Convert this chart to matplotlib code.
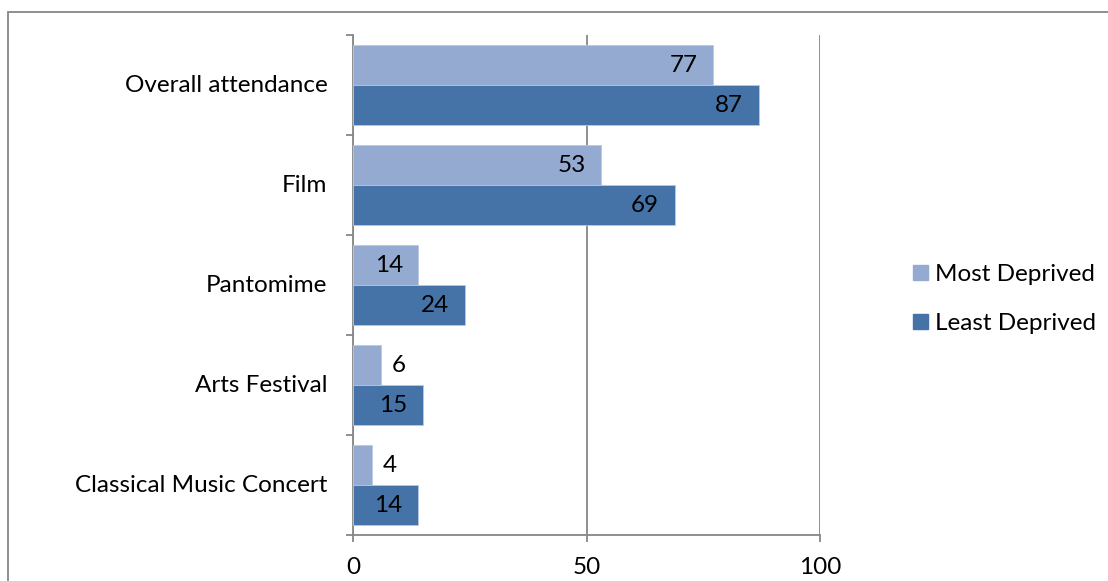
import matplotlib
matplotlib.use("Agg")
import matplotlib.pyplot as plt
from matplotlib.patches import Rectangle, Patch
import numpy as np

categories = ["Overall attendance", "Film", "Pantomime", "Arts Festival", "Classical Music Concert"]
most_deprived = [77, 53, 14, 6, 4]
least_deprived = [87, 69, 24, 15, 14]
series_names = ["Most Deprived", "Least Deprived"]
x_ticks = [0, 50, 100]

light = "#95AAD1"
dark = "#4573A8"
axis_grey = "#878787"
FONT = "Lato"
FS = 17.5

W, H = 1108, 581
fig = plt.figure(figsize=(W / 100, H / 100), dpi=100)
fig.patch.set_facecolor("white")

# outer chart frame (right and bottom edges fall outside the canvas)
fig.add_artist(Rectangle((8 / W, -0.05), 1.2, (H - 12) / H + 0.05, transform=fig.transFigure,
                         fill=False, edgecolor=axis_grey, linewidth=1.3))

ax = fig.add_axes([353 / W, 1 - 535 / H, (820 - 353) / W, 500 / H])

n = len(categories)
pos = np.arange(n)
bh = 0.4
ax.barh(pos - bh / 2, most_deprived, height=bh, color=light, edgecolor="#B9C7E2", linewidth=0.6, zorder=3)
ax.barh(pos + bh / 2, least_deprived, height=bh, color=dark, edgecolor="#B9C7E2", linewidth=0.6, zorder=3)

ax.set_xlim(0, 100)
ax.set_ylim(n - 0.5, -0.5)

to_px = 467 / 100.0
for i in range(n):
    v = most_deprived[i]
    if v * to_px > 40:
        ax.annotate(str(v), (v, pos[i] - bh / 2), xytext=(-15, 0), textcoords="offset pixels",
                    ha="right", va="center", fontsize=FS, family=FONT, zorder=4)
    else:
        ax.annotate(str(v), (v, pos[i] - bh / 2), xytext=(11, 0), textcoords="offset pixels",
                    ha="left", va="center", fontsize=FS, family=FONT, zorder=4)
    v = least_deprived[i]
    ax.annotate(str(v), (v, pos[i] + bh / 2), xytext=(-16, 0), textcoords="offset pixels",
                ha="right", va="center", fontsize=FS, family=FONT, zorder=4)

# gridlines
ax.set_xticks(x_ticks)
ax.set_xticklabels([str(t) for t in x_ticks], fontsize=FS, family=FONT)
ax.xaxis.grid(True, color=axis_grey, linewidth=1.3, zorder=0)
ax.set_axisbelow(True)

# category labels centered in each band, ticks at band boundaries
ax.set_yticks(np.arange(-0.5, n, 1.0))
ax.set_yticklabels([])
ax.set_yticks(pos, minor=True)
ax.set_yticklabels(categories, minor=True, fontsize=FS, family=FONT)
for lbl in ax.get_yticklabels(minor=True):
    lbl.set_verticalalignment("center")
ax.tick_params(axis="y", which="minor", length=0, pad=18.5)
ax.tick_params(axis="y", which="major", length=5, color=axis_grey, width=1.3)
ax.tick_params(axis="x", length=5, color=axis_grey, width=1.3, pad=11)

for s in ["top", "right"]:
    ax.spines[s].set_visible(False)
for s in ["left", "bottom"]:
    ax.spines[s].set_color(axis_grey)
    ax.spines[s].set_linewidth(1.3)

handles = [Patch(facecolor=light, edgecolor=light), Patch(facecolor=dark, edgecolor=dark)]
fig.legend(handles, series_names, loc="center left", bbox_to_anchor=(913 / W, 1 - 299 / H),
           frameon=False, prop={"family": FONT, "size": FS}, handlelength=0.62, handleheight=0.62,
           handletextpad=0.3, labelspacing=1.15, borderpad=0, borderaxespad=0)

fig.savefig("out.png", dpi=100, facecolor="white")
